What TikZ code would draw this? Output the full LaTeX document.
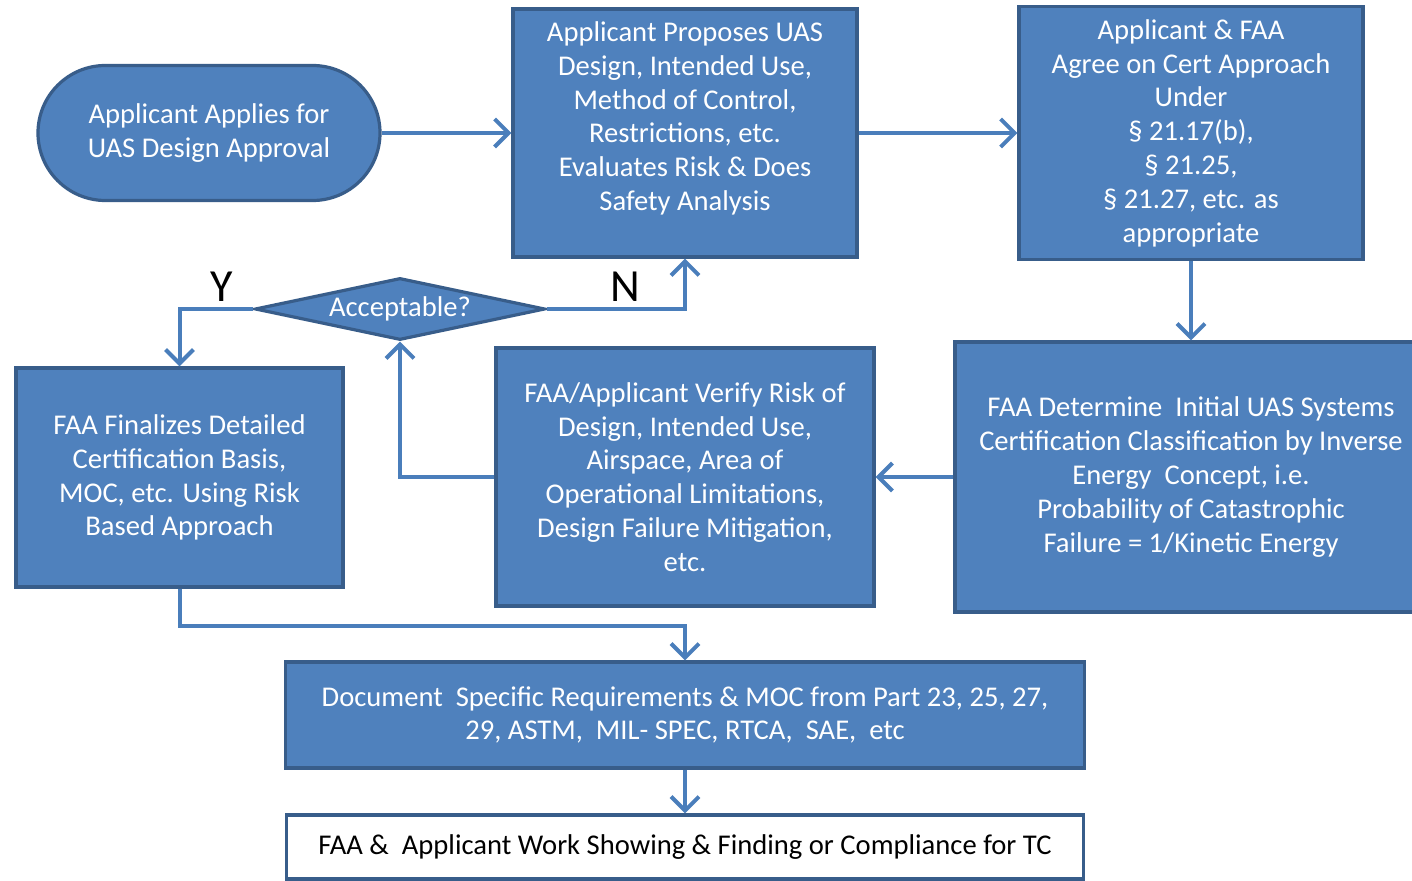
\documentclass[tikz,border=0pt]{standalone}
\usepackage{fontspec}
\setmainfont{Carlito}
\usetikzlibrary{arrows.meta,shapes.geometric}
\definecolor{boxfill}{HTML}{4F81BD}
\definecolor{boxline}{HTML}{385D8A}
\definecolor{arrowc}{HTML}{4A7EBB}
\tikzset{
  bluebox/.style={draw=boxline, line width=1.6pt, fill=boxfill, text=white,
    align=center, inner sep=0pt, font=\fontsize{14.3}{16.9}\selectfont},
  flow/.style={draw=arrowc, line width=2pt,
    -{Straight Barb[length=7pt,width=14pt,line width=2pt]}},
  yn/.style={font=\fontsize{23}{26}\selectfont, text=black, inner sep=0pt}
}
\begin{document}
\begin{tikzpicture}[x=0.5pt,y=-0.5pt]
\clip (0,0) rectangle (1412,881);
\fill[white] (0,0) rectangle (1412,881);

\node[bluebox, minimum width=171pt, minimum height=67.5pt, rounded corners=33.7pt] (start) at (209,133)
  {Applicant Applies for\\UAS Design Approval};

\node[bluebox, minimum width=172pt, minimum height=124pt] (propose) at (685,133)
  {Applicant Proposes UAS\\Design, Intended Use,\\Method of Control,\\Restrictions, etc.\\Evaluates Risk \& Does\\Safety Analysis\\~};

\node[bluebox, minimum width=172pt, minimum height=126.5pt] (agree) at (1191,133)
  {Applicant \& FAA\\Agree on Cert Approach\\Under\\\S\ 21.17(b),\\\S\ 21.25,\\\S\ 21.27, etc. as\\appropriate};

\node[bluebox, shape=diamond, aspect=4.7, minimum width=145pt, minimum height=31pt] (accept) at (400,309)
  {Acceptable?};

\node[bluebox, minimum width=163.5pt, minimum height=109.5pt] (final) at (179.5,477.5)
  {FAA Finalizes Detailed\\Certification Basis,\\MOC, etc. Using Risk\\Based Approach};

\node[bluebox, minimum width=189pt, minimum height=129pt] (verify) at (685,477)
  {FAA/Applicant Verify Risk of\\Design, Intended Use,\\Airspace, Area of\\Operational Limitations,\\Design Failure Mitigation,\\etc.};

\node[bluebox, minimum width=236pt, minimum height=135pt] (determine) at (1191,477)
  {FAA Determine\ \ Initial UAS Systems\\Certification Classification by Inverse\\Energy\ \ Concept, i.e.\\Probability of Catastrophic\\Failure = 1/Kinetic Energy};

\node[bluebox, minimum width=399.5pt, minimum height=53pt] (document) at (685,715)
  {Document\ \ Specific Requirements \& MOC from Part 23, 25, 27,\\29, ASTM,\ \ MIL- SPEC, RTCA,\ \ SAE,\ \ etc};

\node[bluebox, fill=white, text=black, minimum width=398.5pt, minimum height=32pt] (work) at (685,847)
  {FAA \&\ \ Applicant Work Showing \& Finding or Compliance for TC};

\node[yn] (ylab) at (222,287) {Y};
\node[yn] (nlab) at (625,287) {N};

\draw[flow] (start.east) -- (propose.west);
\draw[flow] (propose.east) -- (agree.west);
\draw[flow] (agree.south) -- (determine.north);
\draw[flow] (determine.west) -- (verify.east);
\draw[flow] (verify.west) -| (accept.south);
\draw[flow] (accept.east) -| (propose.south);
\draw[flow] (accept.west) -| (final.north);
\coordinate (mid) at (180,626);
\draw[flow] (final.south) |- (mid) -| (document.north);
\draw[flow] (document.south) -- (work.north);
\end{tikzpicture}
\end{document}
